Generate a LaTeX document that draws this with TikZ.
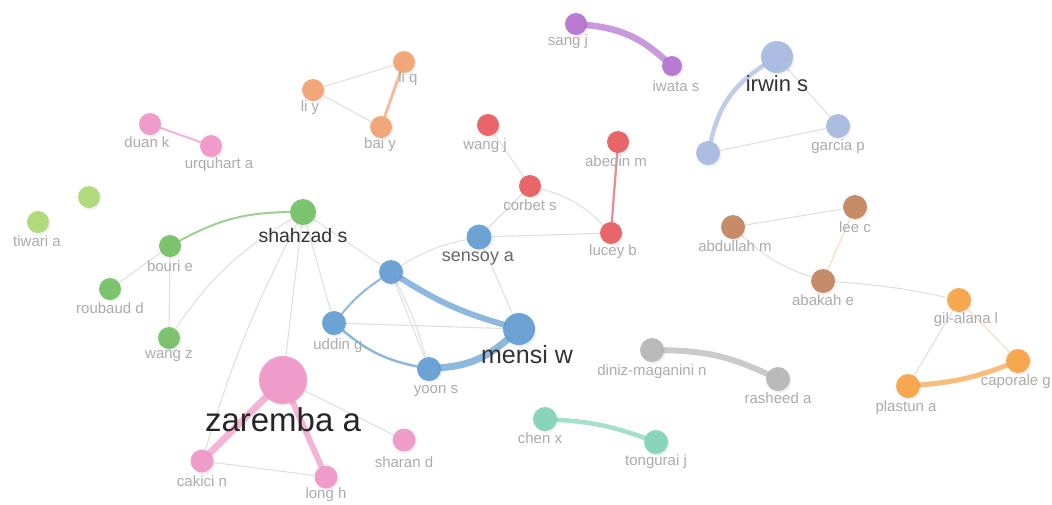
\documentclass[tikz,border=0pt]{standalone}
\usepackage{fontspec}
\setmainfont{Liberation Sans}
\usetikzlibrary{backgrounds,shadows}
\definecolor{cgreen}{HTML}{6FBF5F}
\definecolor{clgreen}{HTML}{A9D870}
\definecolor{cblue}{HTML}{5E9BD2}
\definecolor{cred}{HTML}{E8565B}
\definecolor{cpink}{HTML}{F094C6}
\definecolor{csalmon}{HTML}{F3A06E}
\definecolor{cpurple}{HTML}{B26ECF}
\definecolor{clav}{HTML}{A6B7E0}
\definecolor{cbrown}{HTML}{C2825C}
\definecolor{corange}{HTML}{F8A040}
\definecolor{cgray}{HTML}{B4B4B4}
\definecolor{cteal}{HTML}{7DD3B4}
\definecolor{labgray}{HTML}{ABABAB}
\definecolor{edgegray}{HTML}{E0E0E0}
\definecolor{darklab}{HTML}{333333}
\begin{document}
\begin{tikzpicture}[x=1pt,y=-1pt,
  dot/.style={circle,inner sep=0pt,minimum size=#1,draw=none,opacity=0.9,
    drop shadow={opacity=0.12,shadow xshift=1.5pt,shadow yshift=-2pt}},
  lab/.style={text=labgray,inner sep=0pt,font=\fontsize{15}{16}\selectfont},
  biglab/.style={text=darklab,inner sep=0pt},
  faint/.style={draw=edgegray,line width=1.1pt},
  link/.style={line width=#1,opacity=0.7,line cap=round},
]
\useasboundingbox (0,0) rectangle (1052,504);

% ---------- nodes ----------
% purple
\node[dot=22,fill=cpurple] (sang) at (576,24) {};
\node[dot=20,fill=cpurple] (iwata) at (672,66) {};
% salmon
\node[dot=22,fill=csalmon] (liq) at (404,62) {};
\node[dot=22,fill=csalmon] (liy) at (313,90) {};
\node[dot=22,fill=csalmon] (baiy) at (381,127) {};
% pink small
\node[dot=22,fill=cpink] (duan) at (150,124) {};
\node[dot=22,fill=cpink] (urq) at (211,146) {};
% light green
\node[dot=22,fill=clgreen] (lg1) at (89,197) {};
\node[dot=22,fill=clgreen] (tiwari) at (38,222) {};
% green
\node[dot=26,fill=cgreen] (shahzad) at (303,212) {};
\node[dot=22,fill=cgreen] (bouri) at (170,246) {};
\node[dot=22,fill=cgreen] (roubaud) at (110,289) {};
\node[dot=22,fill=cgreen] (wangz) at (169,338) {};
% red
\node[dot=22,fill=cred] (wangj) at (488,125) {};
\node[dot=22,fill=cred] (abedin) at (618,142) {};
\node[dot=22,fill=cred] (corbet) at (530,186) {};
\node[dot=22,fill=cred] (lucey) at (611,233) {};
% blue
\node[dot=25,fill=cblue] (sensoy) at (479,237) {};
\node[dot=24,fill=cblue] (bl1) at (391,272) {};
\node[dot=24,fill=cblue] (uddin) at (334,323) {};
\node[dot=32,fill=cblue] (mensi) at (519,329) {};
\node[dot=24,fill=cblue] (yoon) at (429,369) {};
% pink big
\node[dot=48,fill=cpink] (zaremba) at (283,380) {};
\node[dot=23,fill=cpink] (cakici) at (202,461) {};
\node[dot=23,fill=cpink] (long) at (326,477) {};
\node[dot=23,fill=cpink] (sharan) at (404,440) {};
% lavender
\node[dot=32,fill=clav] (irwin) at (777,57) {};
\node[dot=24,fill=clav] (garcia) at (838,126) {};
\node[dot=24,fill=clav] (lav1) at (708,153) {};
% brown
\node[dot=24,fill=cbrown] (abdullah) at (733,227) {};
\node[dot=24,fill=cbrown] (leec) at (855,207) {};
\node[dot=24,fill=cbrown] (abakah) at (823,281) {};
% orange
\node[dot=24,fill=corange] (gil) at (959,300) {};
\node[dot=24,fill=corange] (caporale) at (1018,361) {};
\node[dot=24,fill=corange] (plastun) at (908,386) {};
% gray
\node[dot=24,fill=cgray] (diniz) at (652,350) {};
\node[dot=24,fill=cgray] (rasheed) at (778,379) {};
% teal
\node[dot=24,fill=cteal] (chen) at (545,419) {};
\node[dot=24,fill=cteal] (tongurai) at (656,442) {};

% ---------- edges ----------
\begin{scope}[on background layer]
% faint links
\draw[faint] (liy) -- (liq);
\draw[faint] (liy) -- (baiy);
\draw[faint] (bouri) -- (roubaud);
\draw[faint] (bouri) -- (wangz);
\draw[faint] (shahzad) to[bend right=12] (wangz);
\draw[faint] (shahzad) to[bend right=5] (cakici);
\draw[faint] (shahzad) -- (zaremba);
\draw[faint] (shahzad) -- (uddin);
\draw[faint] (shahzad) -- (bl1);
\draw[faint] (wangj) -- (corbet);
\draw[faint] (corbet) to[bend left=15] (lucey);
\draw[faint] (sensoy) -- (corbet);
\draw[faint] (sensoy) -- (lucey);
\draw[faint] (sensoy) -- (mensi);
\draw[faint] (sensoy) to[bend right=10] (bl1);
\draw[faint] (bl1) -- (yoon);
\draw[faint] (bl1) to[bend left=6] (yoon);
\draw[faint] (uddin) -- (mensi);
\draw[faint] (cakici) -- (long);
\draw[faint] (zaremba) -- (sharan);
\draw[faint] (irwin) -- (garcia);
\draw[faint] (lav1) -- (garcia);
\draw[faint] (abdullah) -- (leec);
\draw[faint] (abdullah) to[bend right=12] (abakah);
\draw[faint,draw=csalmon!40] (leec) -- (abakah);
\draw[faint] (abakah) to[bend left=4] (gil);
\draw[faint] (gil) -- (plastun);
\draw[faint,draw=csalmon!40] (gil) -- (caporale);
% coloured links
\draw[link=6.5pt,draw=cpurple] (sang) to[bend left=18] (iwata);
\draw[link=3pt,draw=csalmon] (liq) -- (baiy);
\draw[link=2pt,draw=cpink] (duan) -- (urq);
\draw[link=2pt,draw=cgreen] (bouri) to[bend left=14] (shahzad);
\draw[link=2.2pt,draw=cred] (abedin) -- (lucey);
\draw[link=6pt,draw=cblue] (bl1) to[bend right=8] (mensi);
\draw[link=7pt,draw=cblue] (yoon) to[bend right=18] (mensi);
\draw[link=2.5pt,draw=cblue] (uddin) to[bend right=14] (yoon);
\draw[link=2pt,draw=cblue] (uddin) to[bend left=8] (bl1);
\draw[link=7pt,draw=cpink] (zaremba) -- (cakici);
\draw[link=6pt,draw=cpink] (zaremba) -- (long);
\draw[link=4.5pt,draw=clav] (lav1) to[bend left=22] (irwin);
\draw[link=6pt,draw=cgray] (diniz) to[bend left=12] (rasheed);
\draw[link=4.5pt,draw=cteal] (chen) to[bend left=8] (tongurai);
\draw[link=5pt,draw=corange] (plastun) to[bend right=8] (caporale);
\end{scope}

% ---------- labels ----------
\node[lab] (l-sang) at (568,42) {sang j};
\node[lab] (l-iwata) at (676,86) {iwata s};
\node[lab] (l-liq) at (408,79) {li q};
\node[lab] (l-liy) at (310,108) {li y};
\node[lab] (l-baiy) at (380,145) {bai y};
\node[lab] (l-duan) at (147,142) {duan k};
\node[lab] (l-urq) at (219,165) {urquhart a};
\node[lab] (l-tiwari) at (37,241) {tiwari a};
\node[biglab,font=\fontsize{19.5}{21}\selectfont] (l-shahzad) at (303,236) {shahzad s};
\node[lab] (l-bouri) at (170,266) {bouri e};
\node[lab] (l-roubaud) at (110,308) {roubaud d};
\node[lab] (l-wangz) at (169,356) {wang z};
\node[lab] (l-wangj) at (485,146) {wang j};
\node[lab] (l-abedin) at (616,161) {abedin m};
\node[lab] (l-corbet) at (530,205) {corbet s};
\node[lab] (l-lucey) at (613,252) {lucey b};
\node[biglab,text=darklab!75,font=\fontsize{18}{20}\selectfont] (l-sensoy) at (478,259) {sensoy a};
\node[lab] (l-uddin) at (338,346) {uddin g};
\node[biglab,font=\fontsize{25}{27}\selectfont] (l-mensi) at (527,355) {mensi w};
\node[lab] (l-yoon) at (436,391) {yoon s};
\node[biglab,font=\fontsize{33}{35}\selectfont,text=black!85] (l-zaremba) at (283,420) {zaremba a};
\node[lab] (l-cakici) at (202,481) {cakici n};
\node[lab] (l-long) at (326,495) {long h};
\node[lab] (l-sharan) at (404,462) {sharan d};
\node[biglab,font=\fontsize{22}{24}\selectfont] (l-irwin) at (777,84) {irwin s};
\node[lab] (l-garcia) at (838,147) {garcia p};
\node[lab] (l-abdullah) at (735,246) {abdullah m};
\node[lab] (l-leec) at (855,227) {lee c};
\node[lab] (l-abakah) at (823,300) {abakah e};
\node[lab] (l-gil) at (966,320) {gil-alana l};
\node[lab,anchor=east] (l-caporale) at (1051,382) {caporale g};
\node[lab] (l-plastun) at (906,408) {plastun a};
\node[lab] (l-diniz) at (652,372) {diniz-maganini n};
\node[lab] (l-rasheed) at (778,398) {rasheed a};
\node[lab] (l-chen) at (540,438) {chen x};
\node[lab] (l-tongurai) at (656,462) {tongurai j};
\end{tikzpicture}
\end{document}
